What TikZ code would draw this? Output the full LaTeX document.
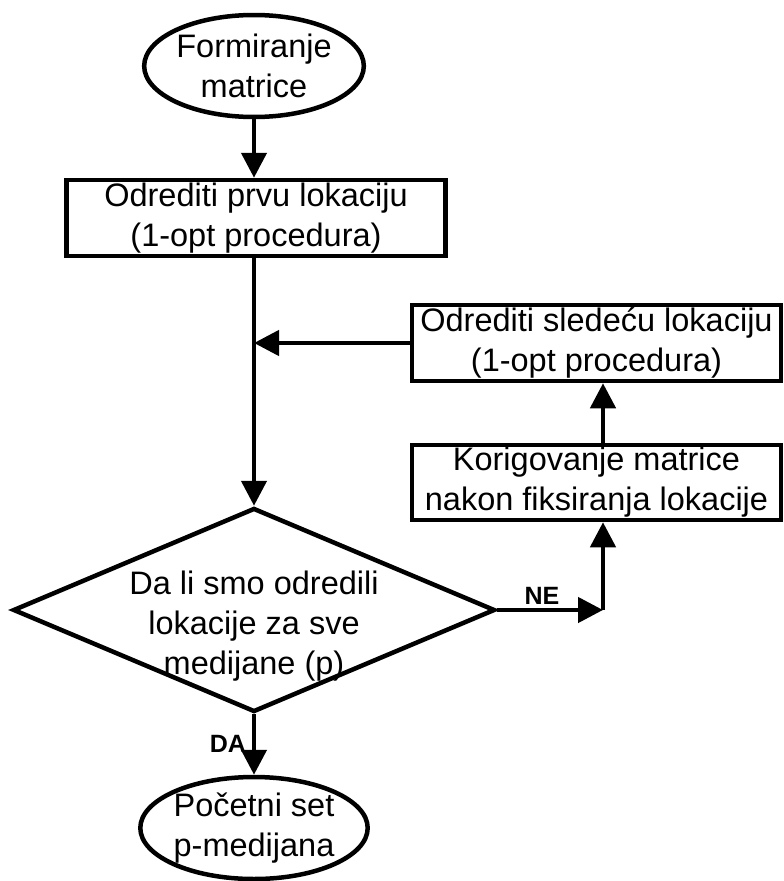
\documentclass[tikz,border=0pt]{standalone}
\usepackage{fontspec}
\setmainfont{Liberation Sans}
\usetikzlibrary{shapes.geometric,arrows.meta}
\tikzset{
  every node/.style={font=\fontsize{32.5}{40}\selectfont, align=center},
  ln/.style={line width=4.5pt},
  box/.style={draw, ln, rectangle, inner sep=0pt, minimum width=369pt, minimum height=76pt},
  term/.style={draw, ln, ellipse, inner sep=0pt, minimum width=212pt, minimum height=102pt},
  decision/.style={draw, ln, diamond, inner sep=0pt, aspect=2.36, minimum width=482pt, minimum height=204pt},
  arr/.style={ln, -{Triangle[length=25pt,width=25pt]}},
  lbl/.style={font=\fontsize{25}{28}\selectfont\bfseries}
}
\begin{document}
\begin{tikzpicture}[x=1pt,y=-1pt]
\useasboundingbox (0,0) rectangle (784,881);
\node[term] (e1) at (254,66) {Formiranje\\matrice};
\node[box, minimum width=379pt] (r1) at (256,218) {Odrediti prvu lokaciju\\(1-opt procedura)};
\node[box] (b1) at (596.5,343) {Odrediti sledeću lokaciju\\(1-opt procedura)};
\node[box, minimum height=75pt] (b2) at (596.5,482.5) {Korigovanje matrice\\nakon fiksiranja lokacije};
\node[decision] (dia) at (254,610) {};
\node (dtext) at (254,626) {Da li smo odredili\\lokacije za sve\\medijane (p)};
\node[term] (e2) at (254,828) {Početni set\\p-medijana};
\coordinate (c1) at (603,610);
\node[lbl] (ne) at (542,596) {NE};
\node[lbl] (da) at (228,744) {DA};

\draw[arr] (e1.south) -- (e1.south |- r1.north);
\draw[arr] (r1.south -| dia.north) -- (dia.north);
\draw[arr] (b1.west) -- (b1.west -| dia.north);
\draw[arr] (dia.south) -- (e2.north);
\draw[arr] (dia.east) -- (c1);
\draw[arr] (c1) -- (c1 |- b2.south);
\draw[arr] (c1 |- b2.north) -- (c1 |- b1.south);
\end{tikzpicture}
\end{document}
